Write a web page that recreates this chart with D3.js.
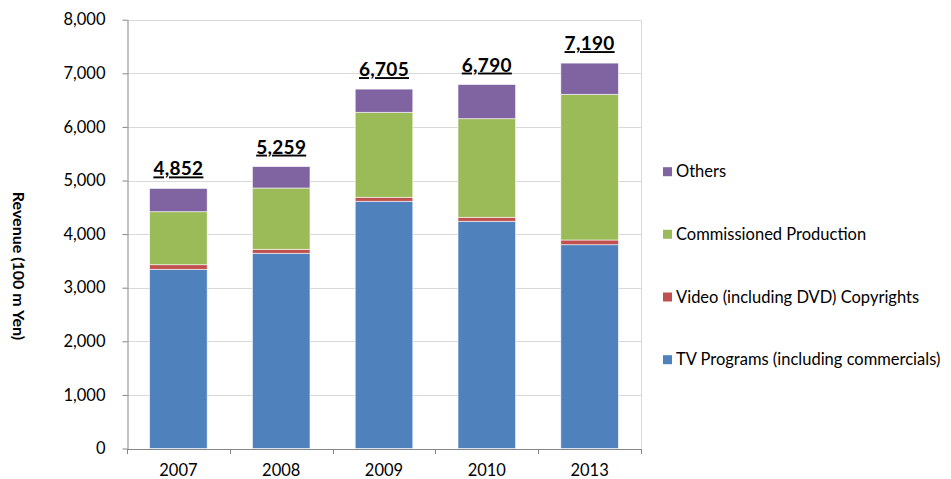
<!DOCTYPE html>
<html>
<head>
<meta charset="utf-8">
<script src="https://cdn.jsdelivr.net/npm/d3@7"></script>
<style>
  html, body { margin: 0; padding: 0; background: #fff; }
  svg { display: block; font-family: Lato, "Open Sans", sans-serif; }
</style>
</head>
<body>
<div id="chart"></div>
<script>
const years = ['2007', '2008', '2009', '2010', '2013'];
const tvPrograms = [3343, 3642, 4612, 4239, 3802];
const videoCopyrights = [86, 74, 75, 74, 88];
const commissioned = [989, 1144, 1585, 1840, 2718];
const others = [434, 399, 433, 637, 582];
const totals = [4852, 5259, 6705, 6790, 7190];

const seriesNames = [
    'TV Programs (including commercials)',
    'Video (including DVD) Copyrights',
    'Commissioned Production',
    'Others',
];
const seriesColors = ['#4f81bd', '#c0504d', '#9bbb59', '#8064a2'];
const yTicks = [0, 1000, 2000, 3000, 4000, 5000, 6000, 7000, 8000];

const [WIDTH, HEIGHT] = [951, 479];
const plot = { left: 127, right: 641, top: 19.7, bottom: 448.5 };

const svg = d3.select('#chart').append('svg')
    .attr('width', WIDTH)
    .attr('height', HEIGHT);

const x = d3.scaleBand()
    .domain(years)
    .range([plot.left, plot.right])
    .paddingInner(0.44)
    .paddingOuter(0.22);

const y = d3.scaleLinear()
    .domain([0, 8000])
    .range([plot.bottom, plot.top]);

// gridlines
svg.append('g')
    .selectAll('line')
    .data(yTicks.slice(1))
    .join('line')
    .attr('x1', plot.left)
    .attr('x2', plot.right)
    .attr('y1', (d) => Math.round(y(d)) + 0.5)
    .attr('y2', (d) => Math.round(y(d)) + 0.5)
    .attr('stroke', '#d9d9d9');

// right border of plot area
svg.append('line')
    .attr('x1', plot.right + 0.5)
    .attr('x2', plot.right + 0.5)
    .attr('y1', Math.round(plot.top) + 0.5)
    .attr('y2', plot.bottom)
    .attr('stroke', '#d9d9d9');

// stacked bars
const rows = years.map((yr, i) => ({
    year: yr,
    0: tvPrograms[i],
    1: videoCopyrights[i],
    2: commissioned[i],
    3: others[i],
}));
const stacked = d3.stack().keys([0, 1, 2, 3])(rows);

svg.append('g')
    .selectAll('g')
    .data(stacked)
    .join('g')
    .attr('fill', (d) => seriesColors[d.key])
    .selectAll('rect')
    .data((d) => d)
    .join('rect')
    .attr('x', (d) => x(d.data.year))
    .attr('width', x.bandwidth())
    .attr('y', (d) => y(d[1]))
    .attr('height', (d) => y(d[0]) - y(d[1]))
    .attr('stroke', '#ffffff')
    .attr('stroke-opacity', 0.7)
    .attr('stroke-width', 0.8);

// total labels
svg.append('g')
    .selectAll('text')
    .data(years)
    .join('text')
    .attr('x', (d) => x(d) + x.bandwidth() / 2)
    .attr('y', (d, i) => y(totals[i]) - 13)
    .attr('text-anchor', 'middle')
    .attr('font-size', 19)
    .attr('font-weight', 'bold')
    .attr('letter-spacing', 0.3)
    .attr('text-decoration', 'underline')
    .attr('fill', '#000')
    .text((d, i) => d3.format(',')(totals[i]));

// y axis
const yAxis = svg.append('g')
    .attr('transform', `translate(${plot.left + 0.5},0)`)
    .call(d3.axisLeft(y).tickValues(yTicks).tickFormat(d3.format(',')).tickSize(5).tickSizeOuter(0));
yAxis.select('.domain').attr('stroke', '#868686');
yAxis.selectAll('.tick line').attr('stroke', '#868686');
yAxis.selectAll('.tick text')
    .attr('font-size', 16.5)
    .attr('font-family', 'Lato, sans-serif')
    .attr('fill', '#000')
    .attr('x', -22);

// x axis
const xAxis = svg.append('g')
    .attr('transform', `translate(0,${plot.bottom + 0.5})`)
    .call(d3.axisBottom(x).tickSize(0).tickPadding(15));
xAxis.select('.domain').attr('stroke', '#868686');
xAxis.selectAll('.tick text')
    .attr('font-size', 16.5)
    .attr('font-family', 'Lato, sans-serif')
    .attr('fill', '#000');

// x tick marks at band boundaries
const step = x.step();
const boundaries = years.map((d) => x(d) - x.paddingOuter() * step).concat([plot.right]);
xAxis.append('g')
    .selectAll('line')
    .data(boundaries)
    .join('line')
    .attr('x1', (d) => Math.round(d) + 0.5)
    .attr('x2', (d) => Math.round(d) + 0.5)
    .attr('y1', 0)
    .attr('y2', 5)
    .attr('stroke', '#868686');

// y axis title
svg.append('text')
    .attr('transform', 'translate(13,266) rotate(90)')
    .attr('text-anchor', 'middle')
    .attr('font-size', 16)
    .attr('font-weight', 'bold')
    .attr('fill', '#000')
    .text('Revenue (100 m Yen)');

// legend (reverse order, Others on top)
const legendY = [171.7, 234.3, 297, 359.7];
const legend = svg.append('g')
    .selectAll('g')
    .data([3, 2, 1, 0])
    .join('g')
    .attr('transform', (d, i) => `translate(663,${legendY[i]})`);
legend.append('rect')
    .attr('x', 0)
    .attr('y', -4.5)
    .attr('width', 9)
    .attr('height', 9)
    .attr('fill', (d) => seriesColors[d]);
legend.append('text')
    .attr('x', 13)
    .attr('dy', '0.35em')
    .attr('font-size', 16.5)
    .attr('fill', '#000')
    .text((d) => seriesNames[d]);
</script>
</body>
</html>
